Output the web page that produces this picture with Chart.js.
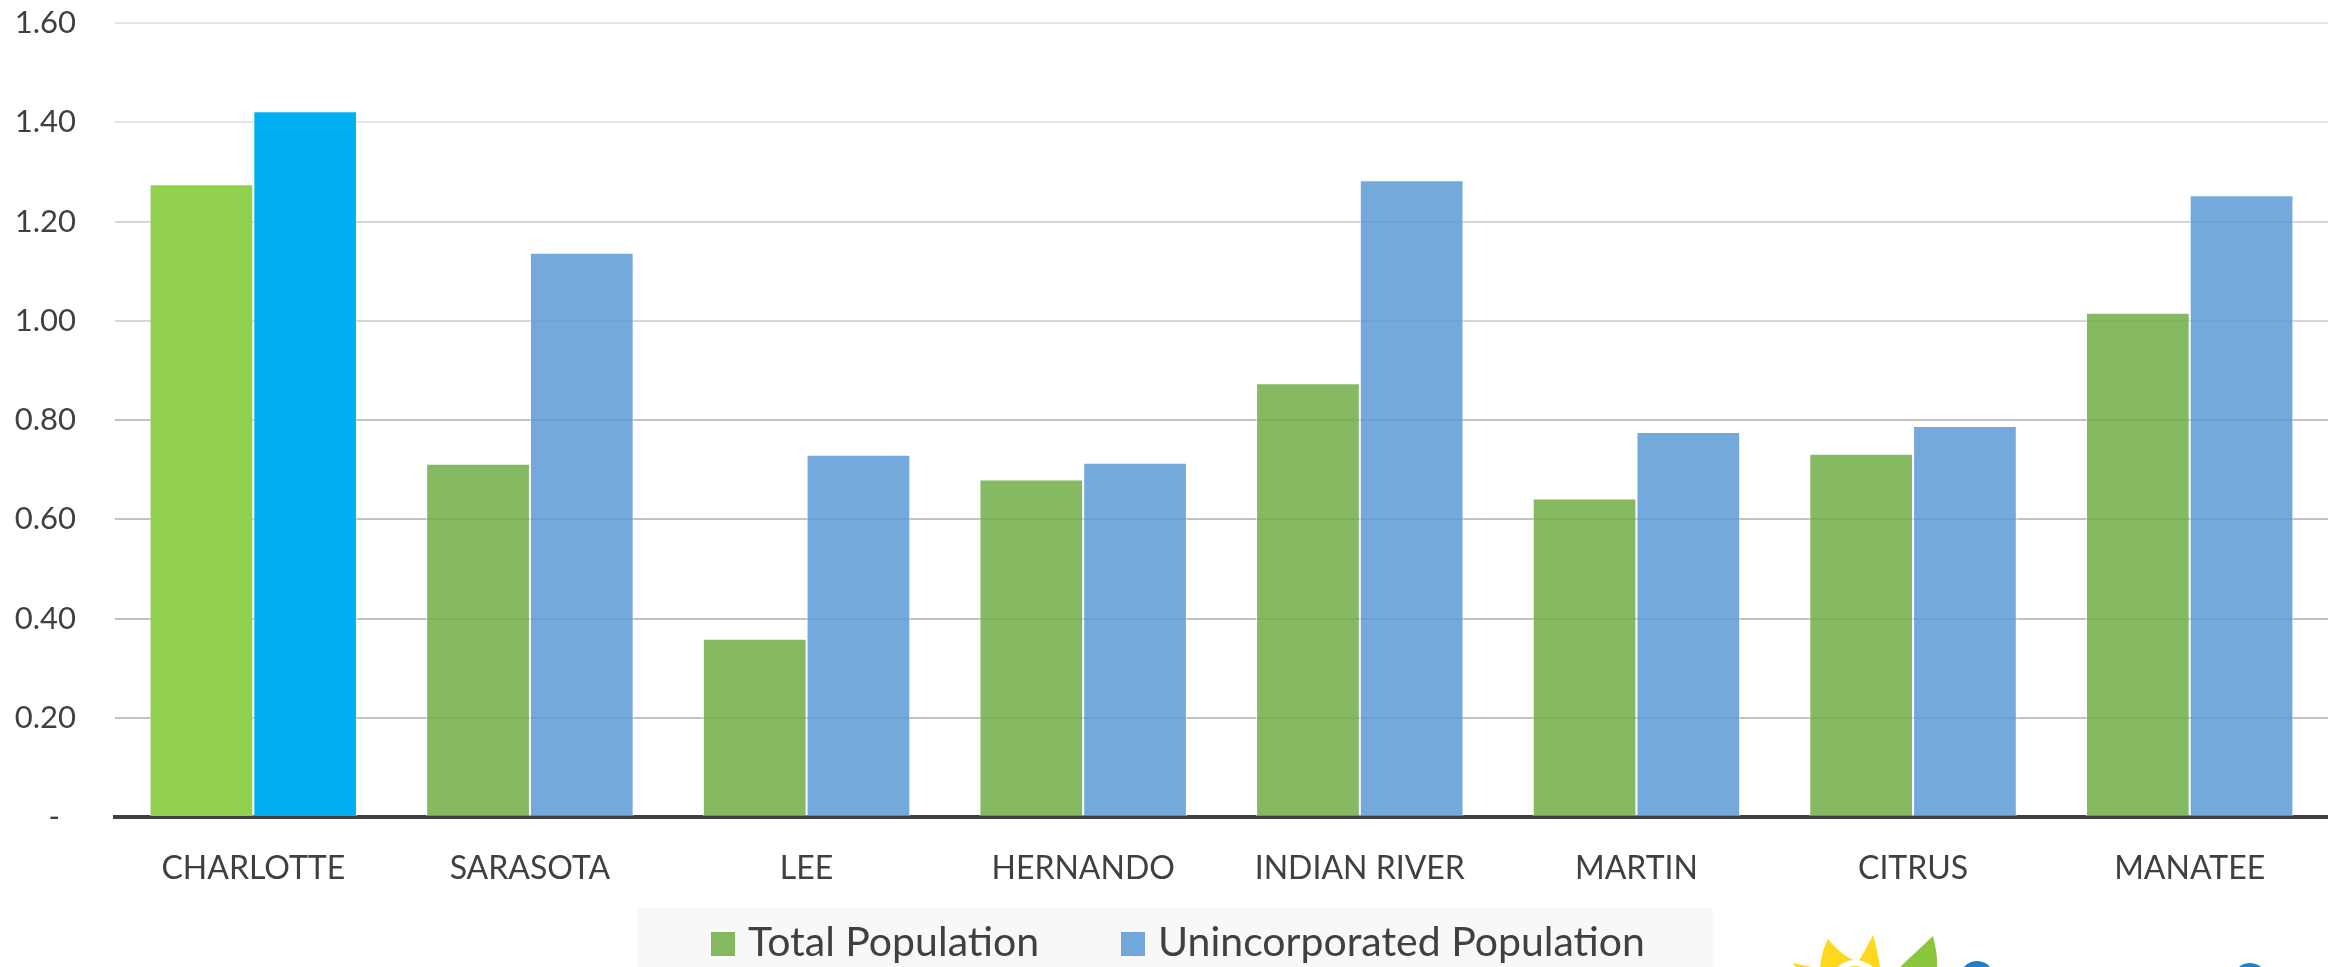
<!DOCTYPE html>
<html>
<head>
<meta charset="utf-8">
<script src="https://cdn.jsdelivr.net/npm/chart.js@4.4.0/dist/chart.umd.min.js"></script>
<style>
  body { margin: 0; background: #fff; }
  #wrap { width: 2328px; height: 967px; position: relative; }
</style>
</head>
<body>
<div id="wrap"><canvas id="myChart"></canvas></div>
<script>
const categories = ['CHARLOTTE', 'SARASOTA', 'LEE', 'HERNANDO', 'INDIAN RIVER', 'MARTIN', 'CITRUS', 'MANATEE'];
const totalPopulation = [1.275, 0.712, 0.359, 0.680, 0.874, 0.642, 0.732, 1.016];
const unincorporatedPopulation = [1.422, 1.137, 0.730, 0.714, 1.283, 0.776, 0.788, 1.253];
const seriesNames = ['Total Population', 'Unincorporated Population'];
const yMin = 0, yMax = 1.6, yStep = 0.2;

const greenColor = 'rgba(112,173,71,0.85)';
const blueColor = 'rgba(91,155,213,0.85)';
const greenHighlight = '#92D050';
const blueHighlight = '#00B0F0';
const textColor = '#404040';

// first county is highlighted with brighter colours
function barColors(base, highlight) {
    return categories.map((c, i) => i === 0 ? highlight : base);
}

// legend drawn by hand so it can sit in its grey box
const legendBox = {
    id: 'legendBox',
    afterDraw(chart) {
        const ctx = chart.ctx;
        ctx.save();
        ctx.fillStyle = '#F8F8F8';
        ctx.fillRect(638, 908, 1075, 70);
        const items = [
            {x: 711, color: greenColor, text: seriesNames[0]},
            {x: 1121, color: blueColor, text: seriesNames[1]}
        ];
        ctx.font = '41px Lato';
        ctx.textBaseline = 'alphabetic';
        items.forEach(it => {
            ctx.fillStyle = it.color;
            ctx.fillRect(it.x, 932, 24, 24);
            ctx.fillStyle = textColor;
            ctx.fillText(it.text, it.x + 37, 956);
        });

        // partial logo at the bottom right
        ctx.fillStyle = '#FFD81E';
        ctx.beginPath();
        ctx.moveTo(1820, 967);
        ctx.quadraticCurveTo(1822, 950, 1828, 939);
        ctx.quadraticCurveTo(1840, 955, 1858, 962);
        ctx.quadraticCurveTo(1866, 950, 1873, 935);
        ctx.quadraticCurveTo(1878, 952, 1880, 967);
        ctx.closePath();
        ctx.fill();
        ctx.beginPath();
        ctx.moveTo(1793, 963);
        ctx.lineTo(1812, 967);
        ctx.lineTo(1796, 967);
        ctx.closePath();
        ctx.fill();
        ctx.fillStyle = '#fff';
        ctx.beginPath();
        ctx.arc(1855, 985, 25, Math.PI * 1.1, Math.PI * 1.9);
        ctx.lineTo(1855, 985);
        ctx.fill();
        ctx.fillStyle = '#FFD81E';
        ctx.beginPath();
        ctx.arc(1855, 990, 24, Math.PI * 1.1, Math.PI * 1.9);
        ctx.lineTo(1855, 990);
        ctx.fill();
        ctx.fillStyle = '#8CC63F';
        ctx.beginPath();
        ctx.moveTo(1933, 936);
        ctx.quadraticCurveTo(1938, 955, 1937, 967);
        ctx.lineTo(1900, 967);
        ctx.closePath();
        ctx.fill();
        ctx.strokeStyle = '#1E7FCB';
        ctx.lineWidth = 6;
        [[1977, 978], [2250, 980]].forEach(p => {
            ctx.beginPath();
            ctx.arc(p[0], p[1], 14, Math.PI * 1.15, Math.PI * 1.85);
            ctx.stroke();
        });
        ctx.restore();
    }
};

const ctx = document.getElementById('myChart');

new Chart(ctx, {
    type: 'bar',
    data: {
        labels: categories,
        datasets: [{
            label: seriesNames[0],
            data: totalPopulation,
            backgroundColor: barColors(greenColor, greenHighlight),
            borderColor: 'rgba(255,255,255,0.6)',
            borderWidth: 1,
            borderSkipped: 'bottom'
        }, {
            label: seriesNames[1],
            data: unincorporatedPopulation,
            backgroundColor: barColors(blueColor, blueHighlight),
            borderColor: 'rgba(255,255,255,0.6)',
            borderWidth: 1,
            borderSkipped: 'bottom'
        }]
    },
    options: {
        responsive: true,
        maintainAspectRatio: false,
        animation: false,
        layout: {
            padding: {top: 23, left: 0, right: 0, bottom: 60}
        },
        datasets: {
            bar: {
                categoryPercentage: 0.75,
                barPercentage: 1
            }
        },
        plugins: {
            legend: {display: false},
            tooltip: {enabled: false}
        },
        scales: {
            x: {
                z: 1,
                grid: {display: false, drawTicks: false},
                border: {display: true, color: '#404040', width: 4},
                ticks: {
                    color: textColor,
                    font: {family: 'Lato', size: 32},
                    padding: 32,
                    maxRotation: 0,
                    autoSkip: false
                },
                afterFit(scale) { scale.height = 90; }
            },
            y: {
                min: yMin,
                max: yMax,
                grid: {
                    drawTicks: false,
                    lineWidth: 2,
                    color: c => c.tick.value >= 1.39 ? '#E4E4E4' : (c.tick.value >= 0.99 ? '#D6D6D6' : '#C2C2C2')
                },
                border: {display: false},
                ticks: {
                    stepSize: yStep,
                    color: textColor,
                    font: {family: 'Lato', size: 31},
                    padding: 39,
                    callback: v => v === 0 ? '-  ' : v.toFixed(2)
                },
                afterFit(scale) {
                    scale.width = 115;
                    scale.paddingTop = 0;
                    scale.paddingBottom = 0;
                }
            }
        }
    },
    plugins: [legendBox]
});
</script>
</body>
</html>
